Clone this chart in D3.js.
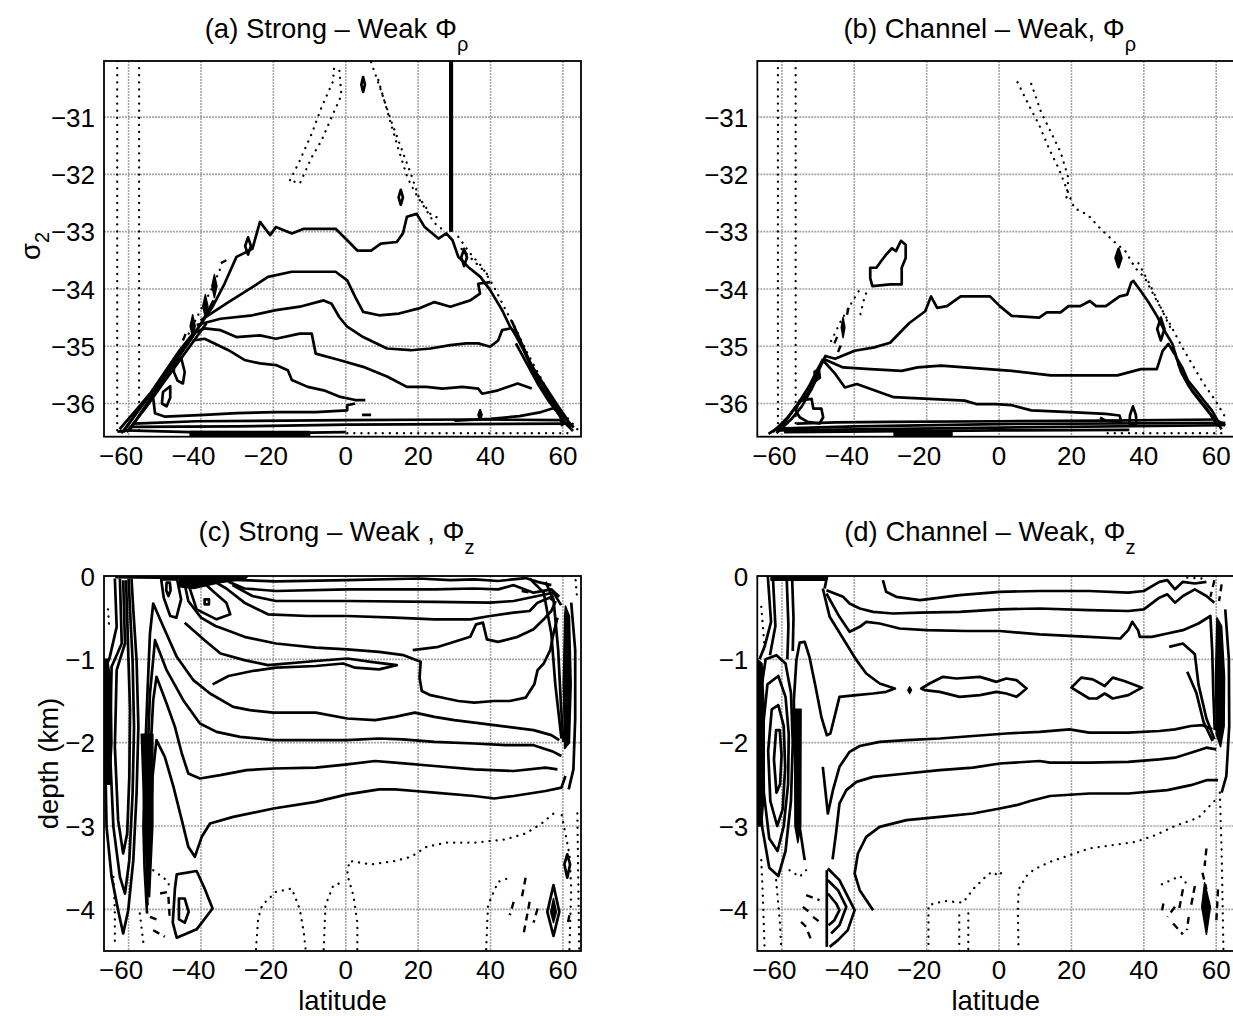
<!DOCTYPE html>
<html>
<head>
<meta charset="utf-8">
<script src="https://cdn.jsdelivr.net/npm/d3@7"></script>
<style>
  body { margin: 0; background: #fff; }
  svg { display: block; font-family: "Liberation Sans", Arial, Helvetica, sans-serif; }
  .grid line { stroke: #a6a6a6; stroke-width: 1.6; stroke-dasharray: 2 1; }
  .frame { fill: none; stroke: #000; stroke-width: 1.8; }
  .c-solid { fill: none; stroke: #000; stroke-width: 2.7; stroke-linejoin: round; }
  .c-dot { fill: none; stroke: #000; stroke-width: 2.3; stroke-dasharray: 0.1 7; stroke-linecap: round; }
  .c-dash { fill: none; stroke: #000; stroke-width: 2.4; stroke-dasharray: 7 5; }
  .c-fill { fill: #000; stroke: #000; stroke-width: 1.5; stroke-linejoin: round; }
  .tick { font-size: 26px; fill: #000; }
  .title { font-size: 27.5px; fill: #000; }
</style>
</head>
<body>
<div id="chart"></div>
<script>
// ---- axes ----
const latTicks = [-60, -40, -20, 0, 20, 40, 60];
const sigTicks = [-31, -32, -33, -34, -35, -36];
const depthTicks = [0, -1, -2, -3, -4];
const latDomain = [-66.8, 65];
const sigDomain = [-36.58, -30.02];
const depthDomain = [-4.5, 0];

const titles = ['(a) Strong \u2013 Weak \u03a6', '(b) Channel \u2013 Weak, \u03a6',
                '(c) Strong \u2013 Weak , \u03a6', '(d) Channel \u2013 Weak, \u03a6'];
const titleSubs = ['\u03c1', '\u03c1', 'z', 'z'];

// ---- panel (a): [latitude, sigma2] ----
const aSolid = [
  [[-63.1,-36.49],[-59.8,-36.47],[-54.3,-35.94],[-49.9,-35.53],[-45.6,-35.13],[-41.2,-34.72],[-36.8,-34.31],[-33.5,-33.91],[-30.2,-33.44],[-25.8,-33.30],[-23.7,-32.83],[-20.9,-33.06],[-19.3,-32.92],[-14.9,-33.03],[-11.6,-32.95],[-2.8,-32.95],[0.4,-33.15],[3.2,-33.33],[7.0,-33.33],[9.7,-33.21],[14.1,-33.18],[15.8,-33.03],[16.9,-32.74],[19.6,-32.69],[21.8,-32.92],[25.6,-33.12],[27.8,-33.03],[29.5,-33.15],[31.1,-33.44],[33.9,-33.62],[37.2,-33.79],[39.9,-34.02],[43.2,-34.37],[45.4,-34.66],[48.1,-34.90],[49.8,-35.13],[52.0,-35.42],[55.2,-35.71],[58.5,-36.03],[60.7,-36.23],[62.3,-36.41]],
  [[-61.5,-36.5],[-56,-36.0],[-51,-35.6],[-47,-35.25],[-43,-34.9],[-39.5,-34.55],[-36.5,-34.2]],
  [[-62,-36.52],[-57,-36.1],[-52.5,-35.7],[-48.5,-35.35],[-44.5,-35.0]],
  [[-62.5,-36.45],[-58,-36.12],[-54,-35.82],[-50,-35.45],[-46,-35.08],[-42,-34.76]],
  [[-60.5,-36.5],[-55,-36.05],[-50.5,-35.65],[-46.5,-35.3],[-42.5,-34.95],[-38.5,-34.6]],
  [[46,-34.7],[49,-35.05],[51.5,-35.4],[54.5,-35.75],[57.5,-36.05],[60,-36.3],[62.8,-36.48]],
  [[47,-34.95],[50,-35.3],[53,-35.65],[56,-35.95],[59,-36.2],[61.5,-36.4]],
  [[45.8,-34.55],[48.6,-34.95],[51,-35.3],[54,-35.6],[57,-35.95],[59.8,-36.2],[63,-36.42]],
  [[-40.1,-34.55],[-32.4,-34.23],[-25.8,-33.97],[-21.5,-33.79],[-14.9,-33.70],[-2.8,-33.70],[0.4,-33.85],[2.6,-34.14],[4.8,-34.40],[9.2,-34.46],[14.7,-34.43],[20.2,-34.34],[24.5,-34.23],[28.9,-34.31],[34.4,-34.20],[37.1,-34.08],[36.6,-33.91],[39.9,-33.88]],
  [[-41.2,-34.63],[-34.6,-34.52],[-25.8,-34.46],[-19.3,-34.37],[-12.7,-34.31],[-6.1,-34.20],[-3.9,-34.26],[-1.8,-34.49],[0.4,-34.66],[4.8,-34.84],[11.4,-35.04],[18.0,-35.07],[23.4,-35.04],[28.9,-34.98],[33.3,-34.95],[36.6,-34.95],[39.9,-35.01],[42.1,-34.90],[43.2,-34.72],[45.4,-34.69]],
  [[-42.3,-34.78],[-39.0,-34.69],[-34.6,-34.72],[-30.2,-34.84],[-23.7,-34.81],[-19.3,-34.87],[-12.7,-34.78],[-9.4,-34.78],[-8.3,-35.13],[-1.8,-35.24],[4.8,-35.36],[11.4,-35.53],[16.9,-35.71],[22.3,-35.71],[26.7,-35.74],[32.2,-35.71],[36.6,-35.74],[37.7,-35.83],[42.1,-35.77],[47.5,-35.65],[51.4,-35.74]],
  [[-42.3,-34.90],[-39.0,-34.87],[-32.4,-35.07],[-28.0,-35.24],[-23.7,-35.30],[-19.3,-35.33],[-16.0,-35.42],[-14.9,-35.59],[-10.5,-35.71],[-6.1,-35.77],[-1.8,-35.88],[2.6,-35.94],[5.4,-35.94]],
  [[-53.2,-35.91],[-52.7,-36.17],[-49.9,-36.23],[-39.0,-36.20],[-30.2,-36.17],[-19.3,-36.15],[-8.3,-36.15],[0.4,-36.12],[0.4,-36.03],[2.6,-36.0]],
  [[30,-36.3],[40,-36.27],[48,-36.22],[54,-36.15],[57.5,-36.08],[59.3,-36.2],[59.8,-36.4]],
  [[-58.7,-36.35],[-41.2,-36.31],[0.4,-36.29],[35.5,-36.28],[59.6,-36.29]],
  [[-59.8,-36.41],[-30.2,-36.40],[0.4,-36.37],[61.8,-36.35]],
  [[-60.9,-36.47],[-43,-36.50],[-10,-36.51],[0,-36.50]],
  [[28.9,-30.02],[28.9,-33.0]],
  [[29.3,-30.02],[29.3,-33.0]],
  [[4.5,-36.2],[7,-36.2]]
];
const aLoops = [
  [[4.3,-30.43],[4.8,-30.3],[5.3,-30.43],[4.8,-30.56]],
  [[14.6,-32.4],[15.2,-32.27],[15.8,-32.4],[15.2,-32.53]],
  [[-27.8,-33.25],[-27,-33.1],[-26.2,-33.25],[-27,-33.4]],
  [[31.9,-33.45],[32.7,-33.3],[33.5,-33.45],[32.7,-33.6]],
  [[36.7,-36.2],[37.1,-36.12],[37.5,-36.2],[37.1,-36.28]],
  [[-47.5,-35.3],[-45.5,-35.2],[-44.5,-35.45],[-45,-35.65],[-46.5,-35.6],[-47.5,-35.45]],
  [[-50.5,-35.8],[-48.5,-35.7],[-48.5,-35.9],[-49.5,-36.05],[-50.8,-36.0]]
];
const aFills = [
  [[-37,-33.95],[-36.3,-33.75],[-35.6,-33.95],[-36.3,-34.15]],
  [[-39.5,-34.3],[-38.8,-34.1],[-38.1,-34.3],[-38.8,-34.5]],
  [[-43,-34.65],[-42.3,-34.45],[-41.6,-34.65],[-42.3,-34.85]],
  [[-43,-36.49],[-10,-36.49],[-10,-36.56],[-43,-36.56]]
];
const aDotted = [
  [[-63.15,-30.02],[-63.15,-36.58]],
  [[-57.1,-30.02],[-57.1,-36.58]],
  [[-15.4,-32.10],[-12.7,-31.76],[-9.4,-31.29],[-6.7,-30.83],[-3.4,-30.36],[-3.4,-30.16],[-1.8,-30.16],[-1.2,-30.62],[-3.9,-31.0],[-6.7,-31.41],[-9.4,-31.70],[-12.7,-32.16],[-15.4,-32.10]],
  [[7.0,-30.04],[9.7,-30.53],[12.5,-31.06],[15.2,-31.52],[18.0,-31.99],[20.2,-32.40],[23.4,-32.69],[26.7,-32.80]],
  [[9.0,-30.35],[11.5,-30.9],[14.5,-31.55],[17.0,-32.05],[19.0,-32.3],[21.5,-32.55],[24.5,-32.85],[27.5,-33.0]],
  [[31.1,-33.09],[34.4,-33.38],[37.7,-33.62],[41.0,-33.97],[44.2,-34.37],[47,-34.7],[50,-35.1],[53,-35.45],[56,-35.8],[59,-36.1],[62,-36.3],[64,-36.45]],
  [[32,-33.3],[36,-33.55],[40,-33.8]],
  [[-43.4,-34.78],[-40.1,-34.37],[-36.8,-33.97],[-34.1,-33.56]],
  [[0.4,-36.52],[63,-36.52]]
];
const aDashed = [
  [[-45,-34.9],[-44,-34.75]],
  [[-34.5,-33.55],[-33.0,-33.5]]
];

// ---- panel (b): [latitude, sigma2] ----
const bSolid = [
  [[-63.7,-36.53],[-59.4,-36.35],[-56.2,-36.06],[-52.9,-35.83],[-50.7,-35.54],[-48.0,-35.17],[-45.3,-35.22],[-39.9,-35.08],[-34.5,-35.02],[-30.1,-34.94],[-26.9,-34.73],[-24.7,-34.59],[-20.4,-34.39],[-18.8,-34.13],[-17.1,-34.33],[-14.4,-34.30],[-10.6,-34.13],[-2.5,-34.13],[0.2,-34.30],[3.5,-34.47],[11.1,-34.50],[13.2,-34.41],[17.0,-34.41],[19.2,-34.30],[22.4,-34.30],[25.1,-34.21],[26.8,-34.30],[29.5,-34.30],[33.3,-34.13],[35.4,-34.10],[36.5,-33.89],[37.1,-33.86],[39.2,-34.04],[41.4,-34.24],[43.6,-34.47],[45.7,-34.73],[47.9,-34.96],[49.0,-35.20],[50.6,-35.37],[52.2,-35.60],[54.4,-35.77],[56.6,-35.95],[58.8,-36.12],[60.4,-36.30],[62.5,-36.38]],
  [[-62.5,-36.5],[-58.5,-36.25],[-55.5,-36.0],[-52.5,-35.7],[-50.3,-35.42],[-48.6,-35.22]],
  [[-61.5,-36.52],[-57.5,-36.28],[-54.5,-36.05],[-51.8,-35.75],[-49.8,-35.48]],
  [[48.5,-35.1],[50.3,-35.45],[52.5,-35.7],[55,-35.9],[57.5,-36.1],[59.6,-36.28],[61.5,-36.45]],
  [[49.5,-35.3],[51.2,-35.55],[53.5,-35.8],[56,-36.0],[58.5,-36.2],[60.5,-36.4]],
  [[-48.6,-35.22],[-43.1,-35.37],[-35.6,-35.40],[-26.9,-35.43],[-22.5,-35.37],[-16.0,-35.34],[-9.5,-35.37],[-3.0,-35.40],[3.5,-35.43],[14.3,-35.51],[25.1,-35.51],[32.7,-35.51],[39.2,-35.40],[43.6,-35.40],[45.2,-35.08],[46.8,-34.96],[48.5,-35.14]],
  [[-48.6,-35.25],[-45.3,-35.48],[-42.6,-35.72],[-39.3,-35.66],[-34.5,-35.77],[-29.1,-35.89],[-19.3,-35.92],[-9.5,-35.95],[-6.3,-36.01],[-0.9,-36.01],[3.5,-36.03],[8.9,-36.12],[19.7,-36.15],[29.5,-36.18],[33.3,-36.21],[33.8,-36.32],[29.5,-36.30],[27.9,-36.25]],
  [[-61.6,-36.44],[-39.9,-36.40],[0,-36.36],[62.5,-36.34]],
  [[-61.6,-36.47],[0,-36.42],[62.5,-36.38]],
  [[-59.4,-36.5],[0,-36.47],[36,-36.46]],
  [[-56,-36.35],[-45,-36.33],[-30,-36.32],[0,-36.31],[30,-36.3],[60,-36.28]]
];
const bLoops = [
  [[-35.6,-33.63],[-33.9,-33.63],[-32.3,-33.49],[-31.2,-33.40],[-29.6,-33.29],[-28.5,-33.34],[-27.1,-33.16],[-25.8,-33.23],[-25.8,-33.46],[-26.9,-33.63],[-26.9,-33.92],[-30.1,-33.92],[-35.0,-33.95],[-35.6,-33.81]],
  [[-55.1,-35.95],[-51.8,-35.92],[-51.3,-36.09],[-49.1,-36.09],[-48.6,-36.24],[-49.6,-36.35],[-52.9,-36.32],[-55.1,-36.24],[-56.2,-36.12]],
  [[32.2,-33.46],[33,-33.3],[33.8,-33.46],[33,-33.62]],
  [[32.6,-33.46],[33,-33.38],[33.4,-33.46],[33,-33.54]],
  [[43.7,-34.7],[44.7,-34.5],[45.7,-34.7],[44.7,-34.9]],
  [[36,-36.35],[36.2,-36.2],[37,-36.05],[37.8,-36.2],[38,-36.35]],
  [[-51,-35.45],[-49.8,-35.4],[-49.5,-35.55],[-50.6,-35.6]]
];
const bFills = [
  [[-43.6,-34.67],[-43.1,-34.5],[-42.6,-34.67],[-43.1,-34.85]],
  [[-29,-36.5],[-13,-36.5],[-13,-36.56],[-29,-36.56]]
];
const bDotted = [
  [[-61.1,-30.02],[-61.1,-36.58]],
  [[-56.2,-30.02],[-56.2,-36.58]],
  [[5.1,-30.39],[8.3,-30.80],[11.1,-31.14],[13.8,-31.55],[16.5,-31.90],[18.6,-32.24],[20.8,-32.59],[24.6,-32.71],[27.9,-32.94],[31.7,-33.17],[34.9,-33.34],[37.6,-33.63],[40.3,-33.81],[43.6,-34.21],[46.8,-34.56],[50.1,-34.96],[53.3,-35.31],[56.6,-35.66],[59.8,-35.95],[62.5,-36.24]],
  [[8.9,-30.42],[11.6,-30.91],[14.3,-31.26],[17.0,-31.61],[19.2,-32.07],[18.6,-32.42]],
  [[38.5,-33.55],[41.5,-33.9],[44.5,-34.3],[47.5,-34.7]],
  [[-46.4,-34.91],[-43.7,-34.56],[-41.0,-34.27],[-38.8,-34.04]],
  [[-38.3,-34.44],[-37.2,-34.15],[-36.1,-33.98]],
  [[30,-36.52],[63,-36.52]]
];
const bDashed = [
  [[-45.5,-34.95],[-44.5,-34.8]],
  [[-44.5,-35.1],[-43.5,-34.95]],
  [[-42,-34.45],[-41.5,-34.3]]
];

// ---- panel (c): [latitude, depth km] ----
const cSolid = [
  [[-36,-0.02],[-34.6,-0.04],[-19.3,-0.065],[0.4,-0.05],[20.2,-0.03],[28.9,-0.05],[35.5,-0.04],[42.1,-0.06],[49.7,-0.025],[53.0,-0.07],[56.8,-0.11]],
  [[-32.4,-0.07],[-28.0,-0.15],[-19.3,-0.18],[0.4,-0.16],[24.5,-0.16],[35.5,-0.15],[42.1,-0.16],[46.4,-0.11],[51.9,-0.2],[56.8,-0.16],[59,-0.25]],
  [[-31.3,-0.11],[-25.8,-0.24],[-19.3,-0.30],[0.4,-0.30],[24.5,-0.31],[39.9,-0.32],[46.4,-0.30],[53.0,-0.24],[57.4,-0.20],[59.5,-0.35]],
  [[-37,-0.05],[-33,-0.15],[-28.0,-0.32],[-21.5,-0.46],[-10.5,-0.48],[0.4,-0.48],[13.6,-0.50],[24.5,-0.52],[34.4,-0.52],[39.9,-0.48],[46.4,-0.44],[50.8,-0.42],[53.0,-0.32],[57.4,-0.24]],
  [[-44.5,-0.1],[-43.5,-0.3],[-40,-0.5],[-36,-0.6],[-33.5,-0.64],[-28.0,-0.73],[-19.3,-0.81],[-8.3,-0.86],[0.4,-0.88],[9.2,-0.91],[16,-0.95],[20.7,-1.03],[20.4,-1.22],[21.0,-1.38],[23.4,-1.43],[27.8,-1.47],[31.1,-1.50],[35.5,-1.52],[41.0,-1.50],[45.3,-1.50],[49.7,-1.46],[52.1,-1.30],[53.0,-1.13],[54.7,-1.05],[56.5,-0.89],[57.4,-0.69],[58.5,-0.5]],
  [[18.5,-0.89],[25.6,-0.85],[30.0,-0.79],[34.4,-0.73],[36.0,-0.58],[37.9,-0.56],[39.0,-0.76],[42.1,-0.79],[47.5,-0.73],[51.9,-0.64],[54.7,-0.52],[56.8,-0.42],[58,-0.3]],
  [[-44.5,-0.56],[-39.0,-0.77],[-34.6,-0.93],[-28.0,-1.01],[-21.5,-1.07],[-8.3,-1.02],[0.4,-0.99],[7.0,-1.03],[14.1,-1.07],[9.2,-1.12],[2.6,-1.10],[-0.7,-1.05],[-8.3,-1.08],[-19.3,-1.10],[-25.8,-1.14],[-32.4,-1.20],[-36.8,-1.30]],
  [[-54.9,-4.05],[-55.6,-3.5],[-55.9,-3.01],[-55.5,-2.21],[-54.8,-1.41],[-54.1,-0.69],[-53.2,-0.33],[-50.4,-0.61],[-46.7,-0.97],[-42.1,-1.25],[-37.5,-1.41],[-31.1,-1.57],[-26.5,-1.61],[-20.0,-1.64],[-8.3,-1.64],[0.4,-1.71],[8.1,-1.73],[13.6,-1.69],[19.1,-1.64],[24.5,-1.69],[30.0,-1.73],[41.0,-1.79],[51.9,-1.85],[56.8,-1.91],[59.0,-1.97]],
  [[-54.8,-3.95],[-55.0,-3.5],[-55.2,-3.09],[-54.8,-2.21],[-54.1,-1.41],[-52.7,-0.77],[-49.5,-1.13],[-44.9,-1.49],[-40.3,-1.77],[-35.7,-1.87],[-29.2,-1.93],[-20.0,-1.97],[-8.3,-1.97],[0.4,-1.97],[9.2,-1.95],[15.8,-1.96],[24.5,-1.99],[35.5,-2.01],[44.2,-2.03],[51.9,-2.03],[57.4,-2.11],[59.6,-2.16]],
  [[-54.7,-3.85],[-54.6,-3.5],[-54.6,-3.13],[-54.1,-2.21],[-53.2,-1.49],[-52.3,-1.21],[-49.5,-1.53],[-47.2,-1.81],[-45.3,-2.13],[-43.5,-2.37],[-40.3,-2.43],[-34.7,-2.39],[-27.4,-2.33],[-20.0,-2.31],[-8.3,-2.30],[0.4,-2.26],[8.1,-2.22],[13.6,-2.24],[24.5,-2.28],[35.5,-2.32],[46.4,-2.34],[55.2,-2.30],[58.5,-2.32]],
  [[-54.5,-3.7],[-54.1,-3.21],[-53.4,-2.41],[-52.3,-1.97],[-50.0,-2.17],[-47.6,-2.53],[-45.3,-2.93],[-43.5,-3.25],[-41.7,-3.37],[-39.8,-3.13],[-37.5,-2.97],[-31.1,-2.89],[-20.0,-2.79],[-8.3,-2.71],[0.4,-2.62],[9.2,-2.56],[13.6,-2.56],[19.1,-2.58],[24.5,-2.60],[35.5,-2.64],[41.0,-2.67],[46.4,-2.64],[55.2,-2.58],[59.6,-2.54],[60.7,-2.40]],
  [[-63.8,-0.03],[-63.3,-0.61],[-65.2,-0.97],[-66.5,-1.13],[-66.5,-2.05],[-66.1,-3.01],[-64.7,-3.61],[-62.9,-4.01],[-61.5,-4.29],[-60.1,-4.01],[-58.7,-3.41],[-57.8,-2.61],[-57.3,-1.81],[-57.8,-1.01],[-58.7,-0.41],[-59.2,-0.03]],
  [[-62.4,-0.03],[-61.9,-0.81],[-64.7,-1.09],[-65.2,-2.05],[-64.2,-3.01],[-62.4,-3.61],[-61.0,-3.81],[-59.8,-3.41],[-58.9,-2.61],[-58.5,-1.81],[-58.9,-1.01],[-59.6,-0.41],[-60.0,-0.03]],
  [[-61.5,-0.05],[-61.0,-0.81],[-63.3,-1.13],[-63.8,-2.05],[-62.9,-2.93],[-61.5,-3.33],[-60.4,-3.09],[-59.8,-2.41],[-59.6,-1.61],[-60.1,-0.93],[-60.7,-0.05]],
  [[50.8,-0.03],[54.7,-0.2],[56.8,-0.69],[57.9,-1.30],[59.6,-1.95]],
  [[55.2,-0.07],[57.4,-0.28],[58.7,-0.89],[59.4,-1.50],[60.1,-1.99]],
  [[62.3,-0.32],[63.4,-0.89],[63.4,-1.71],[62.9,-2.32],[61.6,-2.56]]
];
const cLoops = [
  [[-43.4,-0.11],[-41.2,-0.40],[-35.7,-0.52],[-31.9,-0.46],[-33.0,-0.32],[-36.2,-0.20],[-39.0,-0.09]],
  [[-39,-0.28],[-37.8,-0.28],[-37.8,-0.34],[-39,-0.34]],
  [[-49.5,-0.08],[-48.6,-0.08],[-48.4,-0.17],[-49,-0.24],[-49.6,-0.17]],
  [[-51.0,-0.04],[-46.6,-0.04],[-45.5,-0.28],[-46.8,-0.50],[-48.5,-0.48],[-50.3,-0.26]],
  [[-46.7,-3.58],[-41.2,-3.54],[-39.0,-3.75],[-36.8,-3.99],[-41.2,-4.24],[-46.7,-4.34],[-47.8,-4.16],[-47.2,-3.75]],
  [[-46.1,-3.87],[-44.5,-3.87],[-43.4,-4.03],[-44.5,-4.16],[-46.1,-4.12]],
  [[61.2,-3.34],[62.0,-3.46],[61.2,-3.62],[60.4,-3.46]],
  [[57.4,-3.71],[59.0,-4.03],[57.4,-4.32],[55.7,-4.03]]
];
const cFills = [
  [[-56.5,-1.9],[-53.3,-1.9],[-53.3,-3.0],[-54.2,-3.85],[-55.6,-3.05]],
  [[-66.8,-1.0],[-65.8,-1.0],[-64.8,-1.3],[-64.6,-2.0],[-65.2,-2.5],[-66.8,-2.5]],
  [[-46,0],[-27,0],[-28,-0.04],[-35,-0.08],[-42,-0.15],[-46,-0.13]],
  [[-63.5,0],[-46,0],[-46,-0.03],[-63.5,-0.02]],
  [[60.7,-0.36],[61.8,-0.48],[62.3,-1.30],[61.8,-2.0],[60.5,-2.07],[60.1,-1.30],[60.5,-0.48]],
  [[57.4,-3.87],[58.2,-4.03],[57.4,-4.16],[56.6,-4.03]]
];
const cDotted = [
  [[-24.8,-4.48],[-24.2,-4.11],[-23.1,-3.95],[-19.3,-3.79],[-14.9,-3.75],[-12.7,-4.0],[-11.6,-4.28],[-11.1,-4.48]],
  [[3.2,-4.48],[3.2,-4.16],[2.1,-3.83],[0.4,-3.58],[1.0,-3.42],[7.0,-3.46],[13.6,-3.42],[18.0,-3.37],[22.3,-3.25],[27.8,-3.20],[35.5,-3.20],[44.2,-3.16],[49.7,-3.09],[54.1,-2.97],[58.5,-2.81]],
  [[-6.1,-4.48],[-5.6,-3.95],[-3.4,-3.71],[-1.8,-3.69]],
  [[38.8,-4.48],[39.3,-3.95],[42.1,-3.67],[45.3,-3.62]],
  [[61.8,-4.48],[62.3,-3.75],[61.8,-3.34],[59.6,-2.85]],
  [[64,-2.85],[64.5,-4.48]],
  [[-64.2,-3.61],[-63.8,-4.01],[-63.8,-4.41]],
  [[-56.9,-4.05],[-55.9,-4.41]],
  [[-53.2,-3.53],[-49.5,-3.65],[-48.1,-3.77]],
  [[-65.7,-0.4],[-65.3,-0.65]],
  [[63.5,-0.05],[64,-0.3]]
];
const cDashed = [
  [[-51.3,-3.81],[-49.0,-3.79]],
  [[-54.1,-4.09],[-51.8,-4.13]],
  [[-53.2,-4.25],[-50.0,-4.33]],
  [[-49.0,-3.85],[-48.6,-4.13]],
  [[49.7,-3.62],[48.6,-3.87]],
  [[50.8,-3.91],[49.2,-4.28]],
  [[46.4,-3.91],[45.3,-4.07]],
  [[53.0,-3.99],[51.9,-4.16]],
  [[61.8,-4.07],[61.2,-4.2]],
  [[48.6,-0.18],[50.8,-0.2]],
  [[56.5,-0.27],[57.5,-0.3]]
];

// ---- panel (d): [latitude, depth km] ----
const dSolid = [
  [[-32.1,-0.05],[-31.2,-0.19],[-28.4,-0.25],[-21.9,-0.29],[-20.1,-0.28],[-10.9,-0.23],[0.2,-0.19],[11.2,-0.18],[24.9,-0.18],[35.7,-0.20],[40.0,-0.18],[44.3,-0.07],[46.5,-0.05],[48.6,-0.16],[50.8,-0.07],[54.1,-0.09],[57.3,-0.07]],
  [[-47.7,-0.17],[-43.1,-0.25],[-41.3,-0.33],[-38.5,-0.39],[-34.8,-0.43],[-29.3,-0.45],[-21.9,-0.44],[-10.9,-0.43],[0.2,-0.40],[11.2,-0.39],[24.9,-0.41],[35.7,-0.42],[40.0,-0.40],[44.3,-0.26],[46.5,-0.22],[48.6,-0.32],[50.8,-0.24],[54.1,-0.16],[57.3,-0.24],[59.5,-0.32]],
  [[-47.7,-0.21],[-44.1,-0.49],[-41.3,-0.67],[-38.5,-0.61],[-36.7,-0.55],[-33.0,-0.57],[-27.5,-0.63],[-20.1,-0.65],[-9.0,-0.66],[0.2,-0.66],[11.2,-0.70],[24.9,-0.73],[33.5,-0.75],[35.7,-0.65],[36.8,-0.55],[38.4,-0.65],[38.9,-0.73],[42.2,-0.73],[46.5,-0.69],[50.8,-0.65],[55.1,-0.57],[58.4,-0.48],[58.9,-0.9],[59.2,-1.4],[59.6,-1.85]],
  [[-48.7,-0.15],[-46.8,-0.49],[-43.1,-0.75],[-39.4,-1.01],[-36.7,-1.17],[-33.0,-1.29],[-28.8,-1.35],[-31.2,-1.39],[-34.8,-1.41],[-39.4,-1.43],[-44.1,-1.45],[-45.0,-1.61],[-46.6,-1.89],[-47.6,-1.91],[-49.1,-1.69],[-50.7,-1.33],[-52.4,-0.97],[-53.7,-0.79],[-55.1,-0.80],[-56.0,-1.01],[-56.7,-1.49],[-56.5,-2.05],[-55.9,-2.61],[-55.1,-3.01],[-53.7,-3.41]],
  [[-48.7,-2.29],[-47.3,-2.85],[-45.9,-2.57],[-44.1,-2.29],[-41.3,-2.11],[-38.5,-2.04],[-33.0,-1.99],[-25.6,-1.97],[-16.4,-1.95],[-7.2,-1.92],[2.0,-1.89],[11.2,-1.87],[19.5,-1.84],[24.9,-1.88],[35.7,-1.88],[44.3,-1.86],[48.6,-1.84],[53.0,-1.80],[56.2,-1.79],[58.9,-1.84]],
  [[-46,-3.4],[-45.0,-3.07],[-44.1,-2.73],[-42.2,-2.57],[-39.4,-2.47],[-34.8,-2.41],[-25.6,-2.37],[-16.4,-2.33],[-7.2,-2.30],[0.2,-2.25],[11.2,-2.22],[14.1,-2.24],[24.9,-2.24],[35.7,-2.23],[44.3,-2.20],[48.6,-2.18],[53.0,-2.12],[57.3,-2.06],[60.0,-2.08]],
  [[-34.8,-4.01],[-38.5,-3.77],[-39.9,-3.57],[-39.0,-3.33],[-36.7,-3.13],[-33.0,-3.01],[-25.6,-2.93],[-16.4,-2.89],[-7.2,-2.85],[0.2,-2.79],[4.8,-2.75],[8.6,-2.70],[14.1,-2.64],[24.9,-2.61],[35.7,-2.61],[46.5,-2.57],[53.0,-2.51],[57.3,-2.45],[60.5,-2.45]],
  [[-47.3,-3.51],[-44.1,-3.65],[-41.3,-3.89],[-39.9,-4.01],[-41.8,-4.25],[-44.5,-4.37],[-46.8,-4.45]],
  [[-47.3,-3.65],[-44.5,-3.77],[-42.2,-3.97],[-44.1,-4.19],[-46.4,-4.29]],
  [[-47.3,-3.81],[-45.0,-3.93],[-44.1,-4.01],[-45.5,-4.13],[-47.1,-4.19]],
  [[-47.6,-3.53],[-47.6,-4.45]],
  [[-63.9,0],[-63.0,-0.55],[-64.8,-0.85],[-66.2,-1.0]],
  [[-62.5,0],[-61.8,-0.6],[-63.3,-0.95]],
  [[-58.7,0],[-58.2,-0.6],[-58.5,-1.0]],
  [[-57.2,0],[-56.8,-0.5],[-57.0,-0.9]],
  [[-47.5,0],[-48.2,-0.15]],
  [[47,-0.85],[50.8,-0.81],[54.1,-0.94],[55.1,-1.30],[57.3,-1.71],[59.5,-1.96]],
  [[52,-1.15],[54.5,-1.4],[56.5,-1.75],[59,-1.98]],
  [[62.5,-0.4],[63.5,-1.0],[63.6,-1.8],[62.8,-2.4],[61.5,-2.6]]
];
const dLoops = [
  [[-21.5,-1.35],[-19.2,-1.29],[-15.5,-1.21],[-11.8,-1.23],[-5.3,-1.21],[-0.7,-1.27],[2.0,-1.23],[4.8,-1.25],[7.6,-1.35],[4.8,-1.45],[2.0,-1.41],[-0.7,-1.39],[-5.3,-1.43],[-10.9,-1.45],[-16.4,-1.39],[-20.6,-1.37]],
  [[20.0,-1.34],[22.7,-1.22],[25.9,-1.24],[29.2,-1.32],[31.4,-1.22],[34.6,-1.26],[39.5,-1.34],[35.7,-1.43],[31.4,-1.47],[29.2,-1.41],[27.0,-1.47],[24.9,-1.47]],
  [[-64.5,-1.0],[-66.2,-1.5],[-66.3,-2.2],[-65.5,-3.0],[-63.5,-3.5],[-61,-3.6],[-59,-3.3],[-57.5,-2.7],[-57,-2.0],[-57.5,-1.4],[-59,-1.05],[-61.5,-0.95]],
  [[-64,-1.3],[-65.2,-1.8],[-65,-2.6],[-63.5,-3.15],[-61.2,-3.3],[-59.5,-3.0],[-58.3,-2.5],[-58.1,-1.9],[-59,-1.45],[-61,-1.2]],
  [[-62.8,-1.6],[-63.8,-2.1],[-63.2,-2.7],[-61.3,-3.0],[-59.8,-2.8],[-59.1,-2.3],[-59.5,-1.8],[-61,-1.55]],
  [[-61.6,-1.85],[-62.2,-2.2],[-61.5,-2.6],[-60.5,-2.5],[-60.1,-2.15],[-60.6,-1.85]]
];
const dFills = [
  [[-25.2,-1.37],[-24.7,-1.33],[-24.2,-1.37],[-24.7,-1.41]],
  [[56.8,-3.68],[58.4,-3.97],[57.3,-4.30],[56.0,-3.97]],
  [[60.2,-0.5],[61.5,-0.6],[62.3,-1.2],[62.2,-1.8],[61.2,-2.05],[60.0,-1.9],[59.8,-1.2]],
  [[-56.5,-1.6],[-54.7,-1.6],[-54.8,-3.0],[-55.6,-3.2],[-56.4,-3.0]],
  [[-66.8,-1.0],[-65.5,-1.05],[-64.9,-1.6],[-64.9,-2.6],[-65.6,-3.0],[-66.8,-3.0]],
  [[-63,0],[-47.5,0],[-47.7,-0.05],[-63,-0.05]]
];
const dDotted = [
  [[-65.7,-3.41],[-65.3,-3.81],[-64.8,-4.45]],
  [[-61.6,-3.65],[-60.6,-4.13],[-60.2,-4.45]],
  [[-57.9,-3.53],[-55.1,-3.61],[-52.4,-3.49]],
  [[-65.7,-0.37],[-64.8,-0.85]],
  [[59.5,-2.70],[55.1,-2.90],[48.6,-3.00],[43.2,-3.11],[37.8,-3.19],[31.4,-3.23],[24.9,-3.27],[19.5,-3.35],[14.1,-3.43],[9.7,-3.52],[7.6,-3.60],[5.4,-3.76],[5.2,-4.01],[5.4,-4.50]],
  [[-19.5,-4.5],[-19.5,-3.95],[-15,-3.9],[-10,-3.92],[-7,-3.75],[-4,-3.62],[-2,-3.55],[0,-3.6],[1.5,-3.5]],
  [[-11,-4.5],[-11,-4.05]],
  [[-8.5,-4.05],[-8.5,-4.5]],
  [[61.0,-2.6],[61.5,-3.3],[62,-4.5]],
  [[45,-3.7],[50,-3.6],[52,-3.7]],
  [[52,-0.02],[56,-0.03]]
];
const dDashed = [
  [[-53.3,-3.83],[-49.6,-3.89]],
  [[-54.2,-3.97],[-51.9,-4.05]],
  [[-54.7,-4.15],[-53.3,-4.21]],
  [[-51.4,-4.09],[-49.6,-4.15]],
  [[-52.8,-4.27],[-51.9,-4.37]],
  [[57.3,-3.27],[56.8,-3.48]],
  [[56.2,-3.56],[57.3,-3.76]],
  [[54.1,-3.72],[53.0,-3.97]],
  [[50.8,-3.76],[49.7,-4.01]],
  [[48.6,-3.97],[46.5,-4.09]],
  [[52.4,-4.09],[51.9,-4.25]],
  [[60.5,-3.76],[60.0,-4.17]],
  [[48.1,-4.17],[50.8,-4.30]],
  [[45.4,-3.93],[44.9,-4.05]],
  [[59.5,-0.05],[58.4,-0.25]],
  [[61.5,-0.1],[60.8,-0.3]]
];

// ---- layout ----
const W = 1233, H = 1016;
const panels = [
  {id: 'a', left: 104, top: 61, h: 375.7, yDomain: sigDomain, yTicks: sigTicks, titleY: 38,
   solid: aSolid, loops: aLoops, fills: aFills, dotted: aDotted, dashed: aDashed},
  {id: 'b', left: 757.3, top: 61, h: 375.7, yDomain: sigDomain, yTicks: sigTicks, titleY: 38,
   solid: bSolid, loops: bLoops, fills: bFills, dotted: bDotted, dashed: bDashed},
  {id: 'c', left: 104, top: 576, h: 375, yDomain: depthDomain, yTicks: depthTicks, titleY: 541,
   solid: cSolid, loops: cLoops, fills: cFills, dotted: cDotted, dashed: cDashed, xlabel: 'latitude'},
  {id: 'd', left: 757.3, top: 576, h: 375, yDomain: depthDomain, yTicks: depthTicks, titleY: 541,
   solid: dSolid, loops: dLoops, fills: dFills, dotted: dDotted, dashed: dDashed, xlabel: 'latitude'}
];
const panelW = 477;

const svg = d3.select('#chart').append('svg')
    .attr('width', W)
    .attr('height', H);

function tickText(v) {
    return v < 0 ? '\u2212' + Math.abs(v) : String(v);
}

panels.forEach((p, i) => {
    const x = d3.scaleLinear().domain(latDomain).range([p.left, p.left + panelW]);
    const y = d3.scaleLinear().domain(p.yDomain).range([p.top + p.h, p.top]);
    const line = d3.line().x(d => x(d[0])).y(d => y(d[1]));

    const g = svg.append('g').attr('class', 'panel-' + p.id);

    // clip
    g.append('clipPath').attr('id', 'clip-' + p.id)
        .append('rect')
        .attr('x', p.left).attr('y', p.top)
        .attr('width', panelW).attr('height', p.h);

    // grid
    const grid = g.append('g').attr('class', 'grid');
    grid.selectAll('.gx').data(latTicks).join('line')
        .attr('x1', d => x(d)).attr('x2', d => x(d))
        .attr('y1', p.top).attr('y2', p.top + p.h);
    grid.selectAll('.gy').data(p.yTicks).join('line')
        .attr('x1', p.left).attr('x2', p.left + panelW)
        .attr('y1', d => y(d)).attr('y2', d => y(d));

    // contours
    const cg = g.append('g').attr('clip-path', `url(#clip-${p.id})`);
    cg.append('g').selectAll('path').data(p.fills).join('path')
        .attr('class', 'c-fill').attr('d', d => line(d) + 'Z');
    cg.append('g').selectAll('path').data(p.dotted).join('path')
        .attr('class', 'c-dot').attr('d', line);
    cg.append('g').selectAll('path').data(p.dashed).join('path')
        .attr('class', 'c-dash').attr('d', line);
    cg.append('g').selectAll('path').data(p.solid).join('path')
        .attr('class', 'c-solid').attr('d', line);
    cg.append('g').selectAll('path').data(p.loops).join('path')
        .attr('class', 'c-solid').attr('d', d => line(d) + 'Z');

    // frame
    g.append('rect').attr('class', 'frame')
        .attr('x', p.left).attr('y', p.top)
        .attr('width', panelW).attr('height', p.h);

    // x tick labels (digits centred on the tick, minus hangs left)
    g.selectAll('.xt').data(latTicks).join('text')
        .attr('class', 'tick')
        .attr('x', d => x(d) - (d < 0 ? 7.5 : 0))
        .attr('y', p.top + p.h + 28)
        .attr('text-anchor', 'middle')
        .text(tickText);

    // y tick labels
    g.selectAll('.yt').data(p.yTicks).join('text')
        .attr('class', 'tick')
        .attr('x', p.left - 9)
        .attr('y', d => y(d))
        .attr('dy', '0.37em')
        .attr('text-anchor', 'end')
        .text(tickText);

    // title with subscript
    const t = g.append('text').attr('class', 'title')
        .attr('x', p.left + panelW / 2 - 6)
        .attr('y', p.titleY)
        .attr('text-anchor', 'middle');
    t.append('tspan').text(titles[i]);
    t.append('tspan').attr('dy', 13).attr('font-size', 20).text(titleSubs[i]);

    if (p.xlabel) {
        g.append('text').attr('class', 'title')
            .attr('x', p.left + panelW / 2)
            .attr('y', 1010)
            .attr('text-anchor', 'middle')
            .attr('font-size', 24)
            .text(p.xlabel);
    }
});

// y axis labels
const sigLabel = svg.append('text').attr('class', 'title')
    .attr('transform', 'translate(40,246) rotate(-90)')
    .attr('text-anchor', 'middle')
    .attr('font-size', 30);
sigLabel.append('tspan').text('\u03c3');
sigLabel.append('tspan').attr('dy', 9).attr('font-size', 20).text('2');

svg.append('text').attr('class', 'title')
    .attr('transform', 'translate(58,763.5) rotate(-90)')
    .attr('text-anchor', 'middle')
    .text('depth (km)');
</script>
</body>
</html>
